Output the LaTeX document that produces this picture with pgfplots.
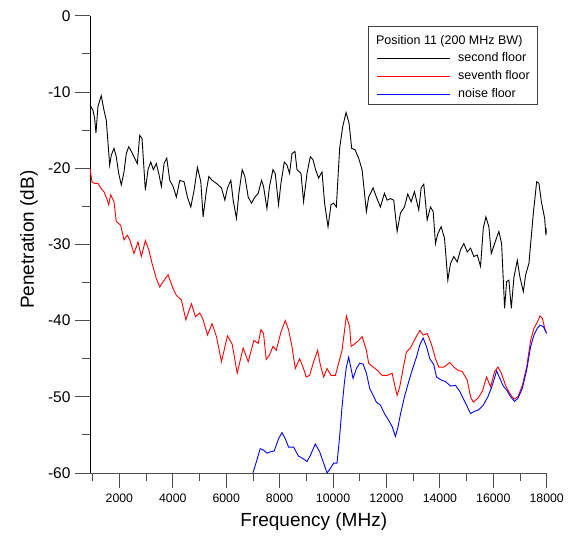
\documentclass[border=0pt]{standalone}
\usepackage{pgfplots}
\pgfplotsset{compat=1.18}
\usepackage{pgfplotstable}
\usepackage{fontspec}
\setmainfont{Liberation Sans}

\pgfplotstableread{
f db
900 -11.7
1011 -12.4
1075 -13.5
1124 -15.4
1199 -11.9
1323 -10.5
1424 -12.4
1510 -13.7
1638 -19.6
1698 -18.3
1799 -17.4
1885 -18.5
1975 -20.7
2073 -22.2
2174 -20.5
2260 -18.1
2350 -17.2
2448 -17.8
2575 -18.7
2673 -19.4
2763 -15.7
2849 -16.1
2973 -22.9
3074 -20.2
3175 -19.2
3273 -20.2
3385 -19.4
3475 -20.7
3573 -22.4
3674 -19.4
3775 -18.7
3888 -21.6
4011 -22.4
4135 -23.8
4263 -21.6
4424 -21.8
4548 -23.8
4675 -25.1
4799 -22.9
4923 -19.9
5050 -21.8
5136 -26.4
5260 -22.9
5350 -21.1
5474 -21.6
5635 -22.0
5823 -22.6
5950 -24.2
6048 -22.6
6175 -21.6
6261 -24.2
6385 -26.6
6475 -23.3
6599 -20.2
6700 -21.1
6824 -23.8
6948 -24.6
7075 -23.8
7199 -23.3
7323 -21.6
7398 -22.4
7525 -25.3
7623 -22.4
7750 -20.2
7836 -20.7
7960 -24.8
8050 -22.0
8174 -19.2
8275 -19.6
8373 -20.7
8463 -18.1
8575 -17.8
8650 -20.2
8800 -20.7
8898 -24.4
9025 -20.7
9149 -18.5
9250 -18.9
9348 -20.2
9460 -21.3
9588 -20.5
9685 -24.6
9813 -27.7
9925 -24.8
10023 -24.6
10124 -25.1
10248 -17.4
10360 -14.6
10488 -12.7
10600 -14.1
10698 -17.4
10825 -17.6
10960 -18.7
11088 -20.2
11249 -25.7
11335 -23.8
11500 -22.6
11624 -23.8
11774 -25.1
11924 -23.3
12025 -24.2
12149 -24.0
12273 -24.2
12400 -28.3
12524 -25.9
12674 -25.1
12798 -23.4
12925 -24.4
13049 -23.1
13210 -25.5
13300 -22.6
13398 -22.1
13525 -26.8
13649 -25.1
13750 -25.7
13836 -29.9
13923 -28.6
14050 -27.7
14174 -29.2
14298 -34.7
14399 -32.5
14523 -31.6
14650 -32.3
14774 -30.7
14898 -29.9
15025 -31.0
15149 -30.5
15273 -31.6
15400 -31.4
15524 -32.9
15625 -27.9
15723 -26.4
15835 -27.7
15925 -31.2
16049 -29.9
16210 -28.3
16311 -29.9
16424 -38.4
16499 -34.9
16585 -34.7
16675 -38.4
16773 -34.3
16900 -32.1
16998 -34.3
17125 -36.2
17211 -34.0
17335 -32.5
17500 -25.9
17624 -21.8
17710 -22.0
17800 -24.4
17924 -26.6
17970 -28.8
18000 -27.9
}\second

\pgfplotstableread{
f db
900 -20.0
974 -21.8
1075 -22.0
1199 -22.0
1300 -22.6
1424 -23.1
1548 -24.2
1600 -24.8
1675 -23.5
1799 -24.4
1885 -27.0
2050 -27.5
2174 -29.4
2298 -28.8
2388 -29.4
2549 -31.2
2699 -29.7
2823 -31.6
2973 -29.5
3100 -30.7
3224 -32.5
3385 -34.5
3513 -35.6
3636 -34.9
3824 -34.0
4011 -35.8
4135 -36.7
4323 -37.3
4488 -39.9
4698 -37.8
4848 -39.5
5013 -39.0
5136 -39.9
5298 -41.9
5474 -40.4
5635 -42.1
5823 -45.4
6048 -42.0
6224 -43.1
6411 -46.9
6636 -43.6
6824 -45.4
7038 -42.6
7199 -43.0
7300 -41.2
7398 -41.7
7499 -45.1
7623 -44.5
7750 -43.4
7874 -43.9
8050 -41.5
8211 -40.0
8335 -41.2
8463 -43.4
8586 -46.3
8748 -45.0
8875 -46.1
8999 -47.4
9123 -47.2
9273 -45.4
9423 -43.9
9524 -45.8
9648 -47.4
9775 -46.3
9925 -47.2
10086 -47.2
10210 -45.6
10338 -43.9
10499 -39.4
10623 -40.8
10675 -43.4
10836 -43.0
10960 -42.6
11088 -42.1
11249 -43.9
11335 -45.6
11500 -46.1
11650 -46.5
11838 -47.2
12025 -47.2
12213 -46.9
12336 -48.9
12400 -49.8
12498 -48.7
12625 -46.3
12749 -44.1
12899 -43.6
13086 -42.3
13248 -41.3
13375 -41.9
13525 -41.7
13675 -43.0
13836 -45.0
13960 -46.1
14148 -46.1
14373 -45.5
14523 -46.1
14673 -46.5
14838 -46.7
15025 -47.8
15149 -50.0
15250 -50.7
15423 -50.2
15588 -49.3
15749 -47.4
15899 -48.7
16049 -46.7
16173 -46.1
16300 -46.9
16461 -48.5
16623 -49.6
16773 -50.3
16923 -50.0
17088 -48.5
17249 -46.1
17399 -42.6
17523 -41.0
17650 -40.2
17748 -39.4
17838 -39.7
17924 -41.0
18000 -41.7
}\seventh

\pgfplotstableread{
f db
7000 -60.0
7150 -58.3
7274 -56.8
7398 -57.0
7525 -57.4
7675 -57.2
7799 -57.1
7960 -55.5
8088 -54.7
8211 -55.5
8335 -56.6
8523 -56.6
8710 -57.8
8875 -58.1
9025 -58.5
9149 -57.7
9336 -56.2
9498 -57.2
9648 -58.7
9775 -60.0
9899 -59.4
10023 -58.7
10150 -58.7
10248 -55.2
10338 -51.3
10424 -48.2
10499 -46.1
10585 -44.8
10675 -46.3
10750 -47.6
10874 -46.3
10998 -45.6
11125 -45.7
11249 -46.9
11373 -48.9
11500 -49.8
11624 -50.7
11774 -51.1
11924 -52.2
12085 -53.1
12213 -53.9
12336 -55.2
12423 -54.1
12524 -52.3
12674 -50.0
12835 -48.0
12963 -46.5
13124 -44.8
13248 -43.2
13375 -42.3
13499 -43.4
13623 -45.0
13773 -45.8
13874 -47.4
14050 -47.8
14211 -48.0
14399 -48.6
14586 -48.5
14748 -49.3
14898 -50.4
15025 -51.3
15149 -52.2
15299 -51.9
15460 -51.7
15625 -51.1
15798 -50.0
15925 -48.9
16023 -47.8
16124 -46.6
16248 -47.6
16375 -48.6
16499 -49.1
16649 -50.0
16799 -50.6
16923 -50.2
17088 -48.9
17249 -46.5
17399 -43.4
17523 -41.9
17650 -41.0
17748 -40.6
17875 -40.8
18000 -41.7
}\noise

\begin{document}
\begin{tikzpicture}
\begin{axis}[
  scale only axis,
  width=456.7pt, height=457.3pt,
  xmin=900, xmax=18000, ymin=-60, ymax=0,
  axis x line*=bottom, axis y line*=left,
  x axis line style={draw=black!70, line width=0.9pt},
  y axis line style={draw=black, line width=0.9pt},
  tick align=outside,
  major tick length=15pt, minor tick length=8pt,
  every tick/.style={black!70, line width=0.8pt},
  scaled x ticks=false, scaled y ticks=false,
  xtick={2000,4000,6000,8000,10000,12000,14000,16000,18000},
  xticklabels={2000,4000,6000,8000,10000,12000,14000,16000,18000},
  minor xtick={1000,3000,5000,7000,9000,11000,13000,15000,17000},
  ytick={-60,-50,-40,-30,-20,-10,0},
  yticklabels={-60,-50,-40,-30,-20,-10,0},
  minor ytick={-55,-45,-35,-25,-15,-5},
  xticklabel style={font=\fontsize{12.3pt}{14pt}\selectfont, yshift=-2pt},
  yticklabel style={font=\fontsize{15.5pt}{18pt}\selectfont, xshift=-1pt},
  xlabel={Frequency (MHz)},
  ylabel={Penetration (dB)},
  xlabel style={font=\fontsize{19pt}{22pt}\selectfont, at={(rel axis cs:0.490,-0.1072)}, anchor=center},
  ylabel style={font=\fontsize{19pt}{22pt}\selectfont, at={(rel axis cs:-0.1336,0.51)}, anchor=center},
  legend image code/.code={\draw[#1] (0pt,0pt) -- (72.6pt,0pt);},
  legend style={at={(rel axis cs:0.628,0.919)}, anchor=north west, draw=none, fill=none,
    inner sep=0pt, row sep=6.2pt, column sep=7.7pt,
    nodes={inner sep=0pt, text height=9pt, text depth=2.5pt, anchor=west},
    font=\fontsize{12.5pt}{14pt}\selectfont},
  legend cell align=left,
]
\addplot[black, line width=0.9pt] table[x=f, y=db] {\second};
\addlegendentry{second floor}
\addplot[red, line width=0.9pt] table[x=f, y=db] {\seventh};
\addlegendentry{seventh floor}
\addplot[blue, line width=0.9pt] table[x=f, y=db] {\noise};
\addlegendentry{noise floor}
\draw[black!75, line width=0.8pt] (rel axis cs:0.609,0.807) rectangle (rel axis cs:0.979,0.976);
\node[anchor=west, inner sep=0pt, font=\fontsize{12.5pt}{14pt}\selectfont] at (rel axis cs:0.626,0.943) {Position 11 (200 MHz BW)};
\coordinate (bbsw) at (rel axis cs:-0.197,-0.1421);
\coordinate (bbne) at (rel axis cs:1.0773,1.0343);
\end{axis}
\path (bbsw) rectangle (bbne);
\end{tikzpicture}
\end{document}
